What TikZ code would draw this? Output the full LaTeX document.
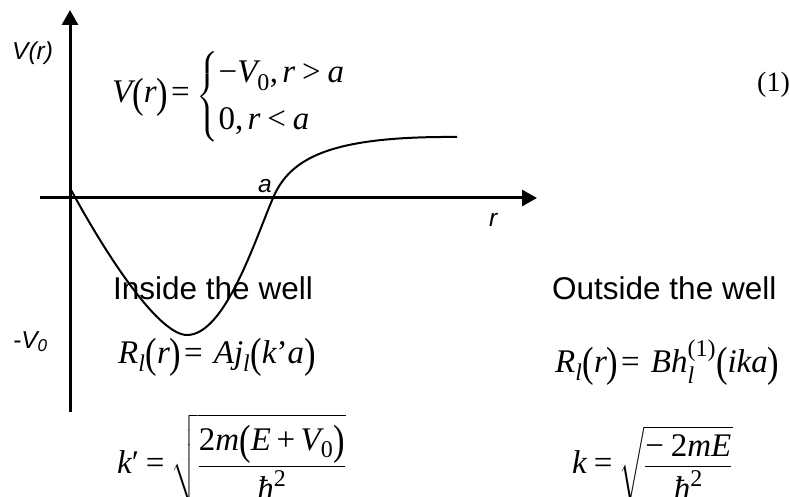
\documentclass[tikz,border=0pt]{standalone}
\usepackage{amsmath}
\usepackage{graphicx}
\usepackage{fontspec}
\setmainfont{Liberation Serif}
\newfontfamily\arial{Liberation Sans}
\DeclareSymbolFont{ltx}{TU}{\rmdefault}{m}{it}
\DeclareMathSizes{33}{33}{24}{18}
\newcount\mycnt
\mycnt=`A \loop \Umathcode\mycnt=7 \symltx \mycnt \advance\mycnt 1 \ifnum\mycnt<`[ \repeat
\mycnt=`a \loop \Umathcode\mycnt=7 \symltx \mycnt \advance\mycnt 1 \ifnum\mycnt<`\{ \repeat
\newcommand{\hb}{\text{\itshape ħ}}
\newcommand{\pr}{\text{′}}
\newcommand{\eqs}{\mathrel{\text{=}}}
\newcommand{\pls}{\mathbin{\text{+}}}
\newcommand{\mns}{\text{−}}
\newcommand{\gts}{\mathrel{\text{>}}}
\newcommand{\lts}{\mathrel{\text{<}}}
\newcommand{\cm}{\mathpunct{\text{,}}}
\newcommand{\tx}[1]{\text{#1}}
\newcommand{\lp}{\mathopen{\raisebox{-0.13em}{\scalebox{1.05}[1.28]{(}}}}
\newcommand{\rp}{\mathclose{\raisebox{-0.13em}{\scalebox{1.05}[1.28]{)}}}}
\usetikzlibrary{arrows.meta}
\tikzset{
  axis/.style={line width=3pt,-{Triangle[length=15pt,width=16pt]}},
  curve/.style={line width=2pt},
  axlabel/.style={anchor=base west,inner sep=0pt,font=\arial\itshape\fontsize{24.5}{28}\selectfont},
  heading/.style={anchor=base west,inner sep=0pt,font=\arial\fontsize{31.5}{36}\selectfont},
  eqn/.style={anchor=base west,inner sep=0pt,font=\fontsize{33}{39}\selectfont},
}
\begin{document}
\begin{tikzpicture}[x=1pt,y=-1pt]
\useasboundingbox (0,0) rectangle (790,497);
% axes
\coordinate (ybot) at (70,412);
\coordinate (ytop) at (70,10);
\coordinate (xl) at (40,198);
\coordinate (xr) at (537,198);
\draw[axis] (ybot) -- (ytop);
\draw[axis] (xl) -- (xr);
% potential curve
\coordinate (c0) at (70,188);
\coordinate (cmin) at (187,335);
\coordinate (ca) at (273,198);
\coordinate (cend) at (457,137);
\draw[curve] (c0) .. controls (110,262) and (160,335) .. (cmin)
  .. controls (225,335) and (255,240) .. (ca)
  .. controls (290,158) and (330,136) .. (cend);
% axis labels
\node[axlabel] (lV) at (12,60) {V(r)};
\node[axlabel] (la) at (258,193) {a};
\node[axlabel] (lr) at (489,227) {r};
\node[axlabel] (lV0) at (13,348) {-V\textsubscript{0}};
% equations
\node[eqn] (eq1) at (112,103) {$\displaystyle V\lp r\rp\!\eqs\renewcommand{\arraystretch}{1.2}\begin{cases}\mns V_{\tx{0}}\cm r\gts a\\\tx{0}\cm r\lts a\end{cases}$};
\node[eqn,font=\fontsize{28}{34}\selectfont] (eqnum) at (757,92) {(1)};
\node[heading] (hin) at (113,299) {Inside the well};
\node[heading] (hout) at (552,299) {Outside the well};
\node[eqn] (rin) at (118,363) {$R_l\lp r\rp\!\eqs\,Aj_l\lp k\tx{'}a\rp$};
\node[eqn] (rout) at (555,372) {$R_l\lp r\rp\!\eqs\,Bh^{\tx{\raisebox{6pt}{(1)}}}_{\tx{\raisebox{-4pt}{\itshape l}}}\lp ika\rp$};
\node[eqn] (kin) at (117,473) {$\displaystyle k\pr\eqs\sqrt{\frac{\tx{2}m\lp E\pls V_{\tx{0}}\rp}{\hb^{\tx{2}}}}$};
\node[eqn] (kout) at (572,473) {$\displaystyle k\eqs\sqrt{\frac{\mns\;\tx{2}mE}{\hb^{\tx{2}}}}$};
\end{tikzpicture}
\end{document}
